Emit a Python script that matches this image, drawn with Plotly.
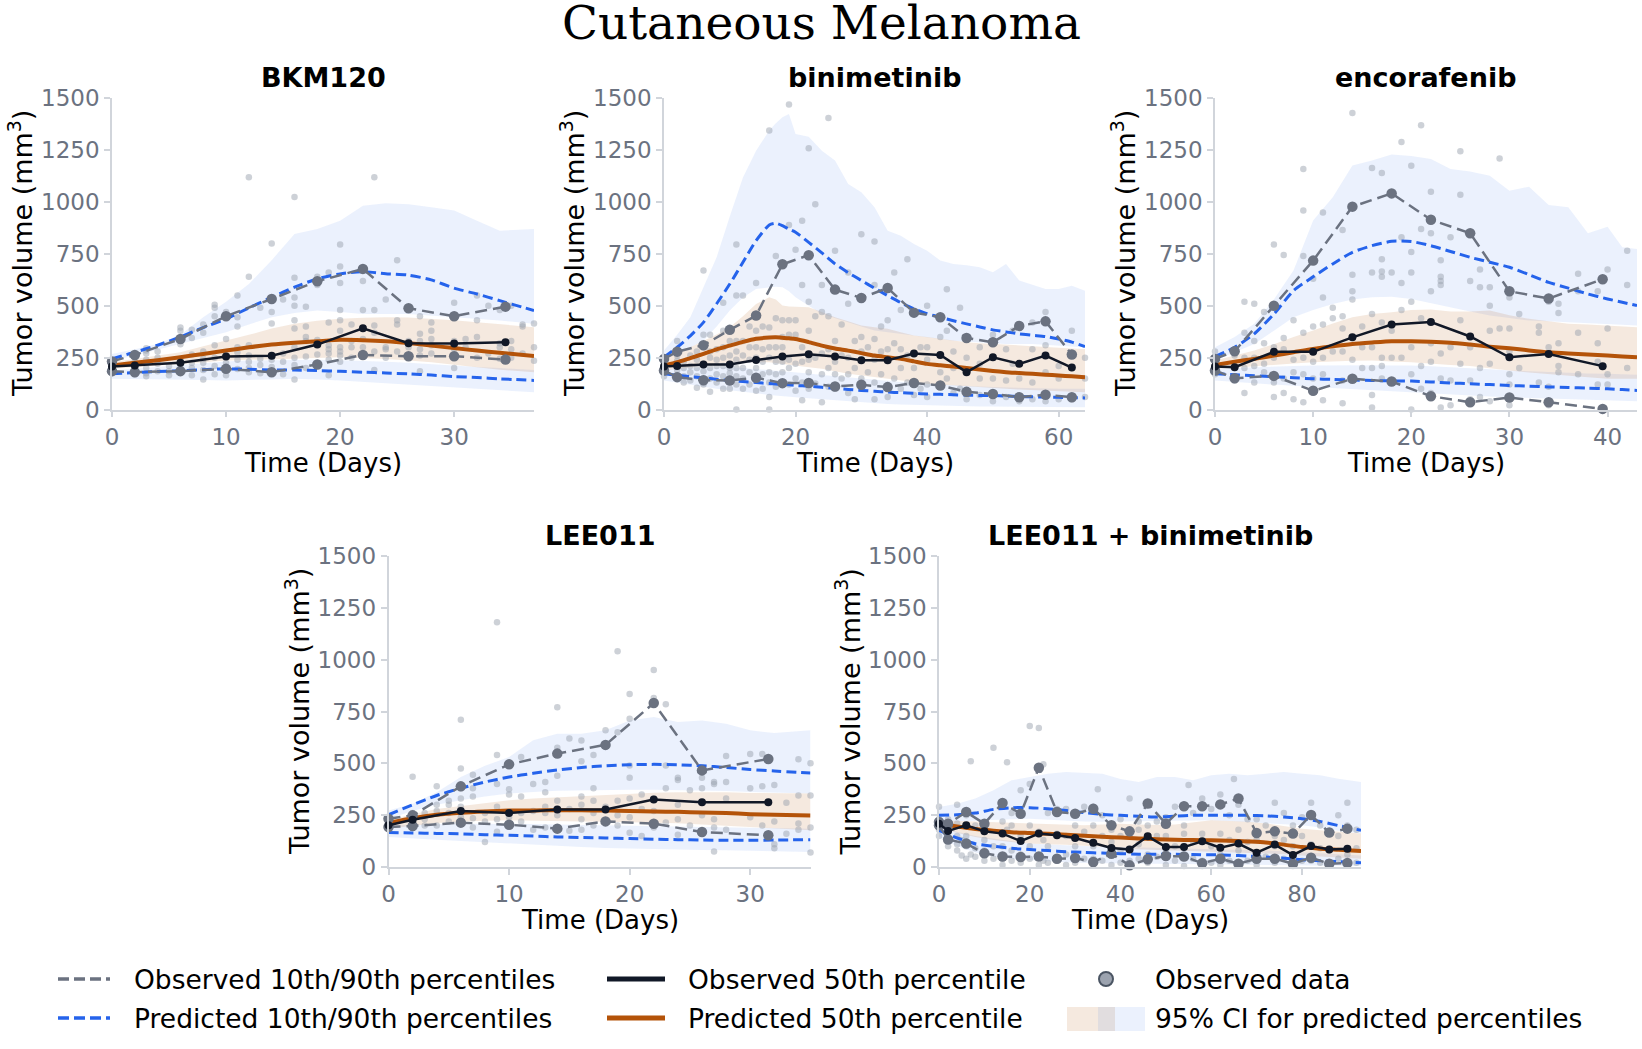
import plotly.graph_objects as go

W, H = 1642, 1049


def fx(p):
    return p / W


def fy(p):
    return 1 - p / H


# ---------------- colours / fonts ----------------
C_BLUE = "#2563eb"
C_ORANGE = "#b45309"
C_OBS = "#6b7280"
C_OBS50 = "#111827"
C_PTS = "rgba(156,163,175,0.5)"
C_BAND_BLUE = "rgba(37,99,235,0.09)"
C_BAND_OR = "rgba(180,83,9,0.13)"
TICK_C = "#6b7280"
SPINE_C = "#d1d5db"
FONT = "DejaVu Sans"

# ---------------- data ----------------
main_title = "Cutaneous Melanoma"
panel_titles = ["BKM120", "binimetinib", "encorafenib", "LEE011", "LEE011 + binimetinib"]
x_label = "Time (Days)"
y_label = "Tumor volume (mm<sup>3</sup>)"
y_ticks = [0, 250, 500, 750, 1000, 1250, 1500]

# ---- BKM120 ----
bkm_obs_t = [0, 2, 6, 10, 14, 18, 22, 26, 30, 34.5]
bkm_obs_p10 = [185, 180, 185, 196, 180, 217, 263, 257, 257, 241]
bkm_obs_p50 = [207, 212, 225, 255, 259, 313, 392, 320, 318, 324]
bkm_obs_p90 = [232, 263, 340, 450, 533, 618, 678, 488, 450, 496]
bkm_t = [0, 2, 4, 6, 8, 10, 12, 14, 16, 18, 20, 22, 24, 26, 28, 30, 32, 34, 37]
bkm_p90 = [245, 276, 310, 350, 395, 437, 490, 541, 590, 630, 654, 665, 655, 648, 625, 585, 557, 525, 477]
bkm_p50 = [212, 225, 238, 252, 268, 284, 300, 313, 322, 329, 336, 334, 329, 320, 308, 296, 284, 274, 258]
bkm_p10 = [172, 178, 183, 187, 192, 196, 194, 191, 190, 188, 184, 180, 176, 172, 166, 159, 154, 148, 140]
bkm_p90_hi = [268, 290, 316, 360, 445, 520, 605, 720, 846, 870, 910, 983, 994, 990, 975, 959, 910, 862, 870]
bkm_p90_lo = [236, 260, 290, 316, 345, 373, 410, 445, 465, 477, 470, 461, 461, 461, 455, 445, 437, 429, 413]
bkm_p50_hi = [228, 245, 262, 276, 305, 332, 360, 390, 413, 428, 437, 442, 445, 443, 437, 430, 421, 410, 397]
bkm_p50_lo = [196, 204, 212, 220, 228, 236, 240, 242, 244, 248, 252, 248, 244, 236, 228, 216, 204, 192, 180]
bkm_p10_hi = [188, 195, 205, 215, 225, 232, 236, 238, 240, 240, 238, 235, 230, 225, 218, 210, 205, 200, 190]
bkm_p10_lo = [148, 148, 146, 144, 142, 140, 142, 145, 148, 145, 140, 135, 128, 122, 116, 110, 102, 93, 83]
bkm_pts = [
    (0, [175, 190, 200, 210, 220, 235]), (2, [170, 180, 195, 205, 230, 255, 265]),
    (3, [160, 175, 200, 240, 270, 295, 285]), (4, [185, 220, 250, 280]), (5, [165, 185, 210]),
    (6, [180, 215, 245, 315, 340, 380, 395]), (7, [165, 200, 225, 265, 345, 385]),
    (8, [145, 190, 225, 245, 280, 370, 410]), (9, [170, 210, 250, 310, 450, 505, 490]),
    (10, [165, 195, 225, 260, 340, 450, 470]), (11, [195, 240, 275, 300, 400, 445, 550]),
    (12, [180, 200, 230, 260, 310, 640, 1120]), (13, [175, 215, 245, 490]),
    (14, [180, 205, 240, 255, 415, 470, 530, 800]), (15, [170, 230, 270, 530]),
    (16, [145, 215, 250, 300, 390, 430, 500, 540, 635, 1025]), (17, [200, 255, 330, 350, 400, 495]),
    (18, [215, 265, 320, 335, 600, 640]), (19, [165, 240, 270, 290, 310, 420, 660]),
    (20, [230, 260, 280, 300, 380, 430, 480, 610, 690, 795]), (21, [250, 300, 330, 410]),
    (22, [260, 300, 340, 390, 480, 620, 680]), (23, [190, 280, 370, 405, 480, 1120]),
    (24, [250, 290, 300, 530]), (25, [280, 410, 430, 720]), (26, [255, 300, 330, 490]),
    (27, [185, 260, 290, 330, 365, 450]), (28, [270, 310, 340, 380, 420]),
    (30, [200, 255, 290, 300, 310, 330, 450, 515]), (31, [300, 340]), (32, [250, 350, 430, 550]),
    (33, [270, 500]), (34, [245, 300, 320, 480]), (35, [250, 290, 330, 500]),
    (36, [270, 410, 400]), (37, [235, 300, 415]),
]

# ---- binimetinib ----
bin_obs_t = [0, 2, 6, 10, 14, 18, 22, 26, 30, 34, 38, 42, 46, 50, 54, 58, 62]
bin_obs_p10 = [188, 156, 141, 140, 153, 127, 128, 111, 119, 108, 128, 116, 85, 75, 59, 71, 59]
bin_obs_p50 = [207, 210, 217, 217, 239, 255, 266, 255, 238, 238, 270, 263, 180, 252, 220, 260, 202]
bin_obs_p90 = [244, 279, 310, 384, 453, 700, 744, 578, 538, 586, 467, 445, 345, 324, 403, 425, 265]
bin_t = [0, 2, 4, 6, 8, 10, 12, 14, 16, 17, 18, 19, 20, 22, 24, 26, 28, 30, 32, 34, 36, 38, 40,
         42, 44, 46, 48, 50, 52, 54, 56, 58, 60, 62, 64]
bin_p90 = [252, 300, 355, 420, 510, 605, 710, 814, 890, 898, 886, 870, 855, 806, 755, 702, 660, 622,
           585, 549, 515, 485, 462, 445, 428, 413, 398, 384, 374, 365, 358, 352, 340, 325, 303]
bin_p50 = [212, 228, 248, 268, 290, 308, 326, 341, 347, 348, 346, 343, 340, 325, 308, 294, 284, 272,
           260, 252, 244, 232, 220, 213, 207, 200, 193, 186, 180, 176, 172, 168, 164, 160, 156]
bin_p10 = [172, 165, 158, 152, 146, 140, 135, 130, 125, 123, 121, 119, 116, 112, 107, 102, 97, 92,
           88, 84, 81, 78, 75, 73, 71, 69, 68, 67, 65, 63, 61, 60, 59, 57, 56]
bin_p90_hi = [284, 360, 445, 590, 734, 930, 1119, 1248, 1345, 1380, 1409, 1425, 1328, 1315, 1248, 1200,
              1087, 1047, 975, 862, 838, 798, 766, 718, 702, 695, 686, 662, 702, 622, 600, 581, 581, 597, 573]
bin_p90_lo = [244, 270, 300, 332, 400, 477, 540, 581, 589, 592, 589, 570, 541, 500, 461, 440, 421, 400,
              381, 373, 365, 356, 348, 340, 332, 328, 324, 320, 316, 316, 316, 312, 308, 304, 300]
bin_p50_hi = [244, 270, 300, 330, 362, 397, 450, 509, 541, 530, 501, 497, 495, 493, 470, 445, 425, 405,
              397, 389, 373, 357, 349, 341, 333, 324, 320, 316, 312, 308, 304, 300, 297, 294, 292]
bin_p50_lo = [188, 195, 202, 210, 220, 228, 228, 228, 228, 225, 220, 216, 212, 204, 196, 184, 172, 164,
              156, 148, 140, 132, 124, 120, 116, 112, 108, 104, 100, 96, 92, 90, 87, 85, 83]
bin_p10_hi = [196, 198, 200, 202, 203, 204, 200, 195, 190, 187, 185, 182, 180, 174, 166, 160, 154, 148,
              143, 138, 133, 128, 124, 121, 118, 115, 111, 108, 106, 104, 102, 101, 100, 100, 100]
bin_p10_lo = [140, 130, 120, 110, 100, 92, 85, 78, 70, 67, 64, 61, 59, 54, 49, 45, 40, 35, 31, 27, 24,
              21, 19, 18, 17, 16, 15, 14, 13, 12, 12, 11, 11, 11, 11]
bin_pts = [
    (0, [160, 180, 200, 220, 240, 215]), (2, [150, 165, 190, 210, 235, 260, 330]),
    (3, [130, 160, 200, 230]), (4, [140, 180, 210, 260]), (5, [105, 160, 200, 240, 280]),
    (6, [120, 150, 185, 220, 300, 360, 670]), (7, [85, 150, 200, 250, 280, 360]),
    (8, [130, 170, 210, 240, 290]), (9, [100, 160, 210, 250, 300, 380, 515]),
    (10, [100, 140, 175, 200, 260, 330, 385]), (11, [0, 120, 160, 200, 240, 280, 330, 550, 795]),
    (12, [100, 150, 200, 260, 330, 550]), (13, [120, 180, 240, 300, 400]),
    (14, [90, 140, 200, 250, 300, 380, 450, 610]), (15, [100, 170, 230, 290, 400]),
    (16, [0, 60, 130, 180, 250, 300, 395, 1345]), (17, [110, 170, 230, 300, 440, 740]),
    (18, [125, 180, 230, 300, 350, 430, 700]), (19, [120, 200, 240, 360, 430, 890, 1470]),
    (20, [90, 150, 220, 360, 430, 770]), (21, [45, 130, 230, 300, 600, 910]),
    (22, [100, 180, 240, 380, 520, 1260]), (23, [125, 250, 450, 990]),
    (24, [35, 170, 270, 470, 600]), (25, [110, 200, 290, 450, 1405]),
    (26, [100, 170, 230, 330, 580, 765]), (27, [150, 260, 410]), (28, [80, 170, 250, 510, 660]),
    (29, [50, 200, 330]), (30, [110, 150, 280, 350, 540, 845]), (31, [180, 300]),
    (32, [50, 130, 240, 340, 600, 810]), (33, [170, 280, 400]), (34, [60, 110, 240, 290, 430, 580]),
    (35, [150, 320, 660]), (36, [100, 200, 290, 480]), (37, [130, 260, 725]),
    (38, [70, 130, 200, 270, 470]), (39, [100, 300]), (40, [60, 120, 240, 300, 500]),
    (42, [110, 180, 260, 350, 450]), (43, [580, 380, 150]), (44, [80, 200, 280]), (45, [490, 100]),
    (46, [50, 80, 180, 250, 350]), (48, [70, 150, 220, 300]), (50, [40, 70, 150, 250, 320, 360]),
    (52, [60, 140, 290]), (53, [220, 380]), (54, [40, 60, 150, 220, 400]), (56, [50, 130, 290, 420]),
    (58, [40, 70, 180, 260, 310, 470]), (60, [50, 150, 210]), (62, [50, 60, 200, 265, 380]),
    (64, [60, 150, 250]),
]

# ---- encorafenib ----
enc_obs_t = [0, 2, 6, 10, 14, 18, 22, 26, 30, 34, 39.5]
enc_obs_p10 = [188, 151, 162, 90, 148, 135, 64, 35, 58, 35, 3]
enc_obs_p50 = [207, 204, 278, 278, 348, 410, 422, 352, 252, 268, 209]
enc_obs_p90 = [244, 281, 500, 718, 978, 1042, 915, 850, 570, 535, 628]
enc_t = [0, 2, 4, 6, 8, 10, 12, 14, 16, 18, 20, 22, 24, 26, 28, 30, 32, 34, 36, 38, 40, 41.5, 43]
enc_p90 = [255, 300, 365, 460, 573, 640, 702, 758, 790, 811, 810, 790, 762, 734, 710, 686, 650, 613,
           585, 557, 533, 517, 501]
enc_p50 = [215, 230, 244, 260, 276, 292, 305, 316, 323, 329, 329, 327, 322, 313, 303, 295, 285, 276,
           270, 265, 260, 256, 252]
enc_p10 = [172, 168, 163, 158, 153, 148, 145, 142, 140, 138, 137, 133, 128, 124, 120, 116, 112, 109,
           106, 103, 100, 96, 92]
enc_p90_hi = [300, 350, 413, 530, 670, 911, 1023, 1176, 1200, 1229, 1222, 1208, 1160, 1148, 1127, 1055,
              1074, 986, 975, 850, 881, 782, 774]
enc_p90_lo = [236, 276, 316, 380, 445, 480, 509, 530, 541, 544, 533, 515, 493, 473, 453, 441, 429, 425,
              421, 417, 413, 409, 405]
enc_p50_hi = [236, 260, 285, 315, 350, 381, 415, 445, 460, 469, 480, 482, 472, 472, 477, 455, 437, 425,
              413, 410, 405, 400, 397]
enc_p50_lo = [196, 202, 208, 214, 222, 228, 232, 235, 236, 232, 228, 222, 215, 210, 198, 188, 178, 168,
              162, 155, 148, 148, 148]
enc_p10_hi = [196, 200, 205, 208, 210, 212, 213, 213, 213, 212, 212, 208, 204, 200, 194, 188, 184, 180,
              177, 174, 172, 170, 168]
enc_p10_lo = [140, 133, 126, 120, 114, 108, 102, 96, 90, 86, 83, 78, 73, 68, 63, 59, 55, 52, 48, 45, 43,
              42, 40]
enc_pts = [
    (0, [170, 190, 210, 230, 250, 280]), (2, [140, 160, 200, 260, 280]),
    (3, [80, 200, 250, 370, 520]), (4, [130, 210, 250, 330, 510]), (5, [180, 220, 320, 470]),
    (6, [60, 130, 250, 300, 500, 795]), (7, [80, 150, 290, 345, 745]), (8, [50, 180, 240, 430]),
    (9, [35, 170, 250, 370, 740, 960, 1160]), (10, [150, 230, 280, 400, 630]),
    (11, [45, 170, 250, 410, 540, 950]), (12, [280, 440, 490]), (13, [30, 140, 280, 390, 450, 865]),
    (14, [150, 240, 350, 530, 570, 650, 1430]), (15, [200, 300, 400]),
    (16, [10, 70, 200, 300, 460, 660, 1165]), (17, [150, 210, 250, 420, 640, 665, 725, 1140]),
    (18, [140, 250, 380, 660]), (19, [250, 480, 610, 830, 1290]),
    (20, [0, 170, 300, 520, 660, 760, 1175]), (21, [100, 210, 440, 870, 1370]),
    (22, [80, 230, 320, 570, 850, 1050]), (23, [10, 150, 270, 600, 620, 640, 720]),
    (24, [20, 140, 300, 830]), (25, [220, 430, 1035, 1245]), (26, [50, 140, 300, 620]),
    (27, [60, 200, 590, 675]), (28, [40, 220, 380, 500, 590]), (29, [1210, 390]),
    (30, [20, 120, 170, 280, 390, 540]), (31, [200, 460]), (33, [130, 370, 400]),
    (34, [20, 110, 300, 520]), (35, [180, 210, 320, 465, 510]), (37, [170, 370, 570, 655]),
    (39, [120, 230, 320, 570]), (40, [120, 170, 390, 675]), (42, [200, 600, 765]),
]

# ---- LEE011 ----
lee_obs_t = [0, 2, 6, 10, 14, 18, 22, 26, 31.5]
lee_obs_p10 = [193, 198, 214, 204, 185, 220, 209, 169, 153]
lee_obs_p50 = [201, 228, 270, 260, 277, 277, 326, 312, 312]
lee_obs_p90 = [233, 249, 389, 495, 547, 589, 791, 466, 521]
lee_t = [0, 2, 4, 6, 8, 10, 12, 14, 16, 18, 20, 22, 24, 26, 28, 30, 32, 35]
lee_p90 = [252, 300, 345, 380, 410, 434, 452, 468, 480, 488, 493, 495, 493, 488, 480, 470, 463, 453]
lee_p50 = [212, 235, 252, 262, 268, 272, 273, 274, 274, 272, 270, 268, 266, 263, 260, 255, 252, 248]
lee_p10 = [166, 164, 162, 160, 156, 153, 149, 145, 142, 140, 137, 134, 132, 130, 129, 129, 130, 132]
lee_p90_hi = [273, 305, 360, 434, 488, 530, 611, 643, 643, 659, 707, 724, 699, 707, 691, 659, 646, 659]
lee_p90_lo = [233, 270, 300, 322, 340, 354, 362, 368, 370, 372, 373, 373, 371, 370, 367, 362, 358, 354]
lee_p50_hi = [225, 255, 280, 295, 310, 322, 330, 336, 342, 348, 354, 358, 361, 362, 360, 357, 355, 354]
lee_p50_lo = [185, 200, 212, 220, 223, 225, 223, 221, 219, 218, 217, 214, 211, 207, 200, 193, 187, 177]
lee_p10_hi = [201, 204, 206, 208, 209, 209, 207, 205, 203, 202, 201, 199, 197, 194, 191, 189, 187, 185]
lee_p10_lo = [145, 138, 131, 125, 119, 113, 108, 102, 97, 92, 88, 86, 84, 82, 81, 80, 77, 72]
lee_pts = [
    (0, [185, 200, 215, 230]), (2, [190, 200, 230, 260, 435]), (3, [200, 230, 260]),
    (4, [200, 270, 300, 390]), (5, [220, 260, 300, 320]), (6, [210, 240, 290, 330, 380, 475, 710]),
    (7, [190, 235, 340, 380, 445]), (8, [120, 220, 260]), (9, [170, 230, 290, 400, 540, 1180]),
    (10, [200, 240, 350, 375, 500]), (11, [220, 260, 340, 530]), (12, [180, 270, 400]),
    (13, [190, 260, 290, 360, 410]), (14, [185, 250, 320, 440, 575, 770]), (15, [175, 280, 620]),
    (16, [180, 230, 300, 340, 510, 610]), (17, [200, 260, 320, 380, 540]), (18, [220, 290, 660]),
    (19, [200, 250, 320, 650, 1040]), (20, [165, 240, 330, 430, 490, 715, 835]),
    (21, [150, 280, 350]), (22, [190, 270, 330, 950, 815]), (23, [215, 380, 490, 785]),
    (24, [155, 230, 300, 420, 430]), (25, [200, 370]), (26, [170, 250, 380, 430, 480]),
    (27, [75, 190, 230, 400, 410]), (28, [180, 330, 410, 535]), (30, [240, 380, 545]),
    (31, [200, 390, 545]), (32, [90, 110, 220, 395]), (33, [160, 310]), (34, [180, 210, 345, 520]),
    (35, [70, 190, 345, 500]),
]

# ---- LEE011 + binimetinib ----
combo_obs_t = [0, 2, 6, 10, 14, 18, 22, 26, 30, 34, 38, 42, 46, 50, 54, 58, 62, 66, 70, 74, 78, 82, 86, 90]
combo_obs_p10 = [201, 133, 113, 66, 51, 48, 51, 40, 43, 24, 64, 8, 37, 53, 51, 18, 40, 16, 40, 40, 16,
                 45, 16, 19]
combo_obs_p50 = [209, 174, 201, 172, 161, 125, 161, 153, 140, 117, 92, 85, 148, 96, 96, 124, 93, 113,
                 69, 108, 58, 101, 84, 88]
combo_obs_p90 = [217, 209, 265, 209, 309, 257, 479, 265, 257, 281, 201, 172, 306, 209, 293, 293, 302,
                 330, 164, 172, 161, 251, 166, 185]
combo_t = [0, 4, 8, 12, 16, 20, 24, 28, 32, 36, 40, 44, 48, 52, 56, 60, 64, 68, 72, 76, 80, 84, 88, 93]
combo_p90 = [249, 252, 260, 278, 286, 286, 281, 272, 262, 254, 249, 245, 241, 245, 249, 249, 249, 249,
             247, 241, 233, 220, 200, 177]
combo_p50 = [209, 195, 183, 175, 168, 164, 160, 155, 151, 146, 142, 138, 134, 131, 130, 129, 127, 123,
             118, 108, 96, 88, 83, 77]
combo_p10 = [177, 140, 112, 100, 90, 84, 79, 74, 70, 67, 64, 62, 61, 61, 60, 59, 57, 53, 48, 42, 35, 30,
             26, 21]
combo_p90_hi = [289, 305, 330, 370, 418, 434, 450, 458, 453, 450, 425, 410, 434, 434, 418, 442, 450, 442,
                450, 458, 450, 442, 426, 410]
combo_p90_lo = [217, 220, 223, 226, 230, 233, 230, 225, 220, 218, 217, 218, 220, 222, 224, 225, 222, 218,
                212, 206, 201, 190, 175, 161]
combo_p50_hi = [225, 222, 219, 216, 212, 209, 206, 203, 201, 205, 209, 205, 202, 205, 215, 225, 222, 218,
                210, 198, 185, 177, 170, 161]
combo_p50_lo = [185, 165, 145, 130, 120, 113, 110, 107, 104, 98, 88, 84, 81, 78, 75, 72, 70, 68, 65, 62,
                56, 50, 45, 40]
combo_p10_hi = [201, 170, 150, 137, 123, 113, 108, 104, 100, 98, 96, 94, 92, 90, 89, 88, 85, 82, 79, 76,
                72, 67, 62, 56]
combo_p10_lo = [145, 100, 70, 50, 38, 32, 27, 23, 19, 17, 16, 15, 14, 14, 13, 13, 12, 11, 10, 9, 8, 7, 6, 5]
combo_pts = [
    (0, [150, 180, 200, 230, 290]), (2, [100, 140, 180, 230]), (4, [80, 110, 150, 210, 300]),
    (5, [55, 130]), (6, [40, 100, 150, 260, 250]), (7, [60, 510]), (8, [50, 90, 200]),
    (10, [30, 80, 130, 210]), (12, [40, 100, 575]), (14, [10, 40, 100, 220, 290]), (15, [505, 180]),
    (16, [30, 80, 200, 260]), (18, [20, 60, 150, 370]), (20, [40, 100, 200, 400, 680]),
    (22, [10, 50, 170, 670]), (23, [30, 130, 495]), (24, [20, 100, 260]), (26, [30, 160, 280]),
    (28, [10, 60, 150, 280]), (30, [20, 100, 200, 260]), (32, [40, 170, 290]),
    (34, [10, 40, 100, 200, 290]), (35, [375]), (36, [30, 150, 250]), (38, [10, 60, 120, 180]),
    (40, [20, 80, 150, 230]), (42, [5, 30, 150, 330]), (44, [40, 110, 220, 180]),
    (46, [20, 60, 200, 310]), (48, [50, 150, 220]), (50, [10, 70, 150, 240]), (52, [30, 100, 290]),
    (54, [5, 50, 160, 300, 200]), (55, [395]), (56, [40, 120, 260]), (58, [5, 30, 160, 330]),
    (60, [20, 100, 280]), (62, [10, 60, 160, 350]), (64, [30, 130, 250]), (65, [425]),
    (66, [10, 80, 180, 300]), (68, [30, 120, 230]), (70, [10, 60, 130, 230]), (72, [50, 200]),
    (74, [20, 100, 150, 310]), (76, [40, 130, 260]), (78, [5, 40, 100, 200]), (80, [30, 150, 240]),
    (82, [30, 110, 310]), (84, [20, 90, 200]), (86, [10, 80, 170]), (88, [40, 150, 250]),
    (90, [10, 60, 200, 310]), (92, [20, 90, 180]),
]

# x-axis settings per panel
x_ranges = [[0, 37], [0, 64], [0, 43], [0, 35], [0, 93]]
x_tickvals = [[0, 10, 20, 30], [0, 20, 40, 60], [0, 10, 20, 30, 40], [0, 10, 20, 30], [0, 20, 40, 60, 80]]

panels = [
    dict(ot=bkm_obs_t, o10=bkm_obs_p10, o50=bkm_obs_p50, o90=bkm_obs_p90, t=bkm_t, p10=bkm_p10,
         p50=bkm_p50, p90=bkm_p90, b10=(bkm_p10_lo, bkm_p10_hi), b50=(bkm_p50_lo, bkm_p50_hi),
         b90=(bkm_p90_lo, bkm_p90_hi), pts=bkm_pts),
    dict(ot=bin_obs_t, o10=bin_obs_p10, o50=bin_obs_p50, o90=bin_obs_p90, t=bin_t, p10=bin_p10,
         p50=bin_p50, p90=bin_p90, b10=(bin_p10_lo, bin_p10_hi), b50=(bin_p50_lo, bin_p50_hi),
         b90=(bin_p90_lo, bin_p90_hi), pts=bin_pts),
    dict(ot=enc_obs_t, o10=enc_obs_p10, o50=enc_obs_p50, o90=enc_obs_p90, t=enc_t, p10=enc_p10,
         p50=enc_p50, p90=enc_p90, b10=(enc_p10_lo, enc_p10_hi), b50=(enc_p50_lo, enc_p50_hi),
         b90=(enc_p90_lo, enc_p90_hi), pts=enc_pts),
    dict(ot=lee_obs_t, o10=lee_obs_p10, o50=lee_obs_p50, o90=lee_obs_p90, t=lee_t, p10=lee_p10,
         p50=lee_p50, p90=lee_p90, b10=(lee_p10_lo, lee_p10_hi), b50=(lee_p50_lo, lee_p50_hi),
         b90=(lee_p90_lo, lee_p90_hi), pts=lee_pts),
    dict(ot=combo_obs_t, o10=combo_obs_p10, o50=combo_obs_p50, o90=combo_obs_p90, t=combo_t,
         p10=combo_p10, p50=combo_p50, p90=combo_p90, b10=(combo_p10_lo, combo_p10_hi),
         b50=(combo_p50_lo, combo_p50_hi), b90=(combo_p90_lo, combo_p90_hi), pts=combo_pts),
]

# ---------------- layout geometry (pixels) ----------------
x_px = [(112, 534), (664, 1085), (1215, 1637), (388.5, 810.5), (939, 1361)]
y_px = [(98.4, 409.5)] * 3 + [(556, 867)] * 2

fig = go.Figure()

for i, p in enumerate(panels):
    xa = "x" if i == 0 else f"x{i + 1}"
    ya = "y" if i == 0 else f"y{i + 1}"
    t = p["t"]
    # CI bands
    for (lo, hi), col in [(p["b10"], C_BAND_BLUE), (p["b90"], C_BAND_BLUE), (p["b50"], C_BAND_OR)]:
        fig.add_trace(go.Scatter(x=t + t[::-1], y=hi + lo[::-1], fill="toself", fillcolor=col,
                                 mode="lines", line=dict(width=0), hoverinfo="skip",
                                 showlegend=False, xaxis=xa, yaxis=ya))
    # observed data points
    px_, py_ = [], []
    for tt, vals in p["pts"]:
        for v in vals:
            px_.append(tt)
            py_.append(v)
    fig.add_trace(go.Scatter(x=px_, y=py_, mode="markers", marker=dict(size=6.5, color=C_PTS),
                             showlegend=False, xaxis=xa, yaxis=ya, cliponaxis=False))
    # predicted percentiles
    for key in ["p10", "p90"]:
        fig.add_trace(go.Scatter(x=t, y=p[key], mode="lines",
                                 line=dict(color=C_BLUE, width=3, dash="10px,5px", shape="spline",
                                           smoothing=0.6),
                                 showlegend=False, xaxis=xa, yaxis=ya))
    fig.add_trace(go.Scatter(x=t, y=p["p50"], mode="lines",
                             line=dict(color=C_ORANGE, width=4, shape="spline", smoothing=0.6),
                             showlegend=False, xaxis=xa, yaxis=ya))
    # observed percentiles
    for key in ["o10", "o90"]:
        fig.add_trace(go.Scatter(x=p["ot"], y=p[key], mode="lines+markers",
                                 line=dict(color=C_OBS, width=2.5, dash="12px,6px"),
                                 marker=dict(size=10.5, color=C_OBS),
                                 showlegend=False, xaxis=xa, yaxis=ya, cliponaxis=False))
    fig.add_trace(go.Scatter(x=p["ot"], y=p["o50"], mode="lines+markers",
                             line=dict(color=C_OBS50, width=2.5),
                             marker=dict(size=8, color=C_OBS50),
                             showlegend=False, xaxis=xa, yaxis=ya, cliponaxis=False))

layout = dict(
    width=W, height=H, margin=dict(l=0, r=0, t=0, b=0, pad=0, autoexpand=False),
    paper_bgcolor="white", plot_bgcolor="white", showlegend=False,
    font=dict(family=FONT, color="black"),
)

axis_common = dict(showline=True, linecolor=SPINE_C, linewidth=1.5, ticks="outside", ticklen=6,
                   tickwidth=1.5, tickcolor=SPINE_C, tickfont=dict(family=FONT, size=23, color=TICK_C),
                   showgrid=False, zeroline=False, fixedrange=True, automargin=False)

annotations = []
for i in range(5):
    xs = "" if i == 0 else str(i + 1)
    x0, x1 = x_px[i]
    y0, y1 = y_px[i]
    layout["xaxis" + xs] = dict(axis_common, domain=[fx(x0), fx(x1)], range=x_ranges[i],
                                tickvals=x_tickvals[i], anchor="y" + xs)
    layout["yaxis" + xs] = dict(axis_common, domain=[fy(y1), fy(y0)], range=[0, 1500],
                                tickvals=y_ticks, anchor="x" + xs)
    cx = (x0 + x1) / 2
    annotations.append(dict(text="<b>" + panel_titles[i] + "</b>", x=fx(cx), y=fy(y0 - 21),
                            xref="paper", yref="paper", showarrow=False, xanchor="center",
                            yanchor="middle", font=dict(family=FONT, size=27, color="black")))
    annotations.append(dict(text=x_label, x=fx(cx), y=fy(y1 + 53), xref="paper", yref="paper",
                            showarrow=False, xanchor="center", yanchor="middle",
                            font=dict(family=FONT, size=26, color="black")))
    annotations.append(dict(text=y_label, x=fx(x0 - 91), y=fy((y0 + y1) / 2), xref="paper",
                            yref="paper", showarrow=False, xanchor="center", yanchor="middle",
                            textangle=-90, font=dict(family=FONT, size=27, color="black")))

annotations.append(dict(text=main_title, x=0.5, y=fy(23), xref="paper", yref="paper", showarrow=False,
                        xanchor="center", yanchor="middle",
                        font=dict(family="DejaVu Serif", size=47, color="black")))

# ---------------- legend (manual) ----------------
legend_labels = ["Observed 10th/90th percentiles", "Predicted 10th/90th percentiles",
                 "Observed 50th percentile", "Predicted 50th percentile",
                 "Observed data", "95% CI for predicted percentiles"]
row_y = [979, 1018]
text_x = [132, 686, 1153]
shapes = []
shapes.append(dict(type="line", xref="paper", yref="paper", x0=fx(58), x1=fx(110), y0=fy(row_y[0]),
                   y1=fy(row_y[0]), line=dict(color=C_OBS, width=3.5, dash="11px,5px")))
shapes.append(dict(type="line", xref="paper", yref="paper", x0=fx(58), x1=fx(110), y0=fy(row_y[1]),
                   y1=fy(row_y[1]), line=dict(color=C_BLUE, width=3.5, dash="11px,5px")))
shapes.append(dict(type="line", xref="paper", yref="paper", x0=fx(607), x1=fx(665), y0=fy(row_y[0]),
                   y1=fy(row_y[0]), line=dict(color=C_OBS50, width=5)))
shapes.append(dict(type="line", xref="paper", yref="paper", x0=fx(607), x1=fx(665), y0=fy(row_y[1]),
                   y1=fy(row_y[1]), line=dict(color=C_ORANGE, width=5)))
shapes.append(dict(type="circle", xref="paper", yref="paper", x0=fx(1099), x1=fx(1113),
                   y0=fy(row_y[0] + 7), y1=fy(row_y[0] - 7), fillcolor="#9ca3af",
                   line=dict(color="#4b5563", width=2)))
shapes.append(dict(type="rect", xref="paper", yref="paper", x0=fx(1067), x1=fx(1115), y0=fy(1031),
                   y1=fy(1007), fillcolor=C_BAND_OR, line=dict(width=0)))
shapes.append(dict(type="rect", xref="paper", yref="paper", x0=fx(1098), x1=fx(1145), y0=fy(1031),
                   y1=fy(1007), fillcolor=C_BAND_BLUE, line=dict(width=0)))
for k, lab in enumerate(legend_labels):
    col = k // 2
    row = k % 2
    annotations.append(dict(text=lab, x=fx(text_x[col]), y=fy(row_y[row]), xref="paper", yref="paper",
                            showarrow=False, xanchor="left", yanchor="middle",
                            font=dict(family=FONT, size=26.5, color="black")))

layout["annotations"] = annotations
layout["shapes"] = shapes
fig.update_layout(**layout)

fig.write_html("out.html")
